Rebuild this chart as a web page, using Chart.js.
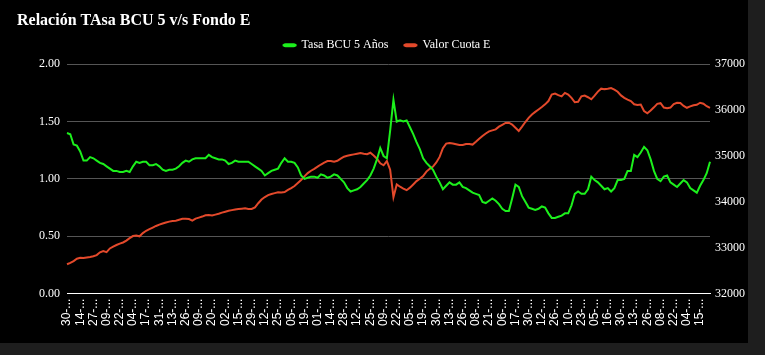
<!DOCTYPE html>
<html lang="es">
<head>
  <meta charset="UTF-8">
  <title>Relación Tasa BCU vs Fondo E</title>
  <style>
    body {
      margin: 0;
      background-color: #1e1e1e;
    }
    #contenedor {
      width: 748px;
      height: 343px;
      background-color: #000;
    }
  </style>
  <script src="https://cdn.jsdelivr.net/npm/chart.js"></script>
</head>
<body>

  <div id="contenedor">
    <canvas id="grafico" width="748" height="343"></canvas>
  </div>

  <script>
    // dias de las etiquetas visibles del eje x (una cada 4 puntos)
    const diasEtiqueta = ['30','14','27','09','22','04','17','31','13','26','09','20','02','15','29','12','25',
      '05','19','01','14','28','12','25','09','22','05','19','30','13','26','08','21','06','17','30','12','26',
      '10','23','05','16','30','13','26','08','22','04','15'];

    const tasaBcu = [
      1.40,1.39,1.30,1.29,1.24,1.16,1.16,1.19,1.18,1.16,
      1.14,1.13,1.11,1.09,1.07,1.07,1.06,1.06,1.07,1.06,
      1.11,1.15,1.14,1.15,1.15,1.12,1.12,1.13,1.11,1.08,
      1.07,1.08,1.08,1.09,1.11,1.14,1.16,1.15,1.17,1.18,
      1.18,1.18,1.18,1.21,1.19,1.18,1.17,1.17,1.16,1.13,
      1.14,1.16,1.15,1.15,1.15,1.15,1.13,1.11,1.09,1.07,
      1.03,1.05,1.07,1.08,1.09,1.14,1.18,1.15,1.15,1.14,
      1.10,1.03,1.00,1.01,1.02,1.02,1.01,1.04,1.03,1.01,
      1.02,1.04,1.03,1.00,0.97,0.92,0.89,0.90,0.91,0.93,
      0.96,0.99,1.03,1.09,1.17,1.27,1.20,1.18,1.42,1.69,
      1.50,1.51,1.50,1.51,1.45,1.39,1.32,1.26,1.18,1.14,
      1.11,1.08,1.02,0.97,0.91,0.94,0.97,0.95,0.95,0.97,
      0.93,0.92,0.90,0.88,0.87,0.86,0.80,0.79,0.81,0.83,
      0.81,0.78,0.74,0.72,0.72,0.83,0.95,0.93,0.85,0.80,
      0.75,0.74,0.73,0.74,0.76,0.75,0.70,0.66,0.66,0.67,
      0.68,0.70,0.70,0.77,0.87,0.89,0.87,0.87,0.91,1.02,
      0.99,0.97,0.94,0.91,0.92,0.89,0.92,0.99,0.99,1.00,
      1.07,1.07,1.21,1.19,1.23,1.28,1.25,1.17,1.07,1.00,
      0.98,1.02,1.03,0.97,0.95,0.93,0.96,0.99,0.97,0.92,
      0.90,0.88,0.94,0.99,1.05,1.15
    ];

    const valorCuota = [
      32640,32670,32710,32760,32780,32775,32790,32800,32815,32840,
      32900,32930,32905,32985,33025,33060,33090,33115,33155,33210,
      33255,33265,33250,33320,33370,33405,33440,33475,33505,33530,
      33550,33570,33583,33590,33610,33631,33631,33625,33590,33635,
      33657,33680,33708,33713,33703,33722,33740,33765,33785,33806,
      33820,33834,33843,33852,33862,33845,33845,33880,33970,34050,
      34105,34147,34172,34190,34208,34205,34215,34260,34300,34346,
      34410,34475,34555,34627,34678,34720,34767,34814,34855,34890,
      34892,34873,34895,34942,34984,35005,35020,35035,35050,35065,
      35050,35040,35070,35010,34940,34840,34798,34890,34700,34102,
      34380,34330,34290,34255,34310,34380,34452,34505,34562,34660,
      34720,34770,34860,34980,35170,35270,35285,35272,35256,35238,
      35240,35260,35262,35248,35310,35375,35435,35490,35536,35558,
      35580,35640,35680,35720,35725,35686,35615,35545,35640,35740,
      35830,35905,35960,36012,36066,36125,36197,36340,36360,36325,
      36300,36375,36340,36265,36170,36180,36300,36316,36280,36235,
      36317,36403,36467,36457,36465,36480,36446,36400,36320,36267,
      36230,36195,36127,36110,36120,35980,35930,35990,36060,36135,
      36150,36055,36038,36055,36130,36160,36155,36090,36050,36080,
      36106,36116,36160,36140,36085,36050
    ];

    const etiquetas = tasaBcu.map((_, i) => (i % 4 === 0 ? diasEtiqueta[i / 4] : ''));

    Chart.defaults.font.family = "'Times New Roman', 'Liberation Serif', serif";
    Chart.defaults.font.size = 12;
    Chart.defaults.color = '#fff';

    // acomoda la leyenda (un poco a la derecha y arriba), como en el original
    const moverLeyenda = {
      id: 'moverLeyenda',
      afterLayout(chart) {
        const l = chart.legend;
        if (l) {
          l.left += 5;
          l.right += 5;
          l.top -= 3;
          l.bottom -= 3;
        }
      }
    };

    const ctx = document.getElementById('grafico');

    new Chart(ctx, {
      type: 'line',
      data: {
        labels: etiquetas,
        datasets: [{
          label: 'Tasa BCU 5 Años',
          data: tasaBcu,
          borderColor: '#1cf01c',
          backgroundColor: '#1cf01c',
          borderWidth: 2,
          pointRadius: 0,
          yAxisID: 'y'
        }, {
          label: 'Valor Cuota E',
          data: valorCuota,
          borderColor: '#e3492b',
          backgroundColor: '#e3492b',
          borderWidth: 2,
          pointRadius: 0,
          yAxisID: 'y1'
        }]
      },
      plugins: [moverLeyenda],
      options: {
        responsive: false,
        animation: false,
        layout: {
          padding: { left: 17, right: 1, top: 1, bottom: 12 }
        },
        plugins: {
          title: {
            display: true,
            text: 'Relación TAsa BCU 5 v/s Fondo E',
            align: 'start',
            color: '#fff',
            font: { size: 16, weight: 'bold' },
            padding: { top: 10, bottom: -4 }
          },
          legend: {
            labels: {
              boxWidth: 12,
              boxHeight: 2,
              padding: 16,
              useBorderRadius: true,
              borderRadius: 2,
              color: '#fff'
            }
          },
          tooltip: { enabled: false }
        },
        scales: {
          x: {
            grid: { display: false, drawTicks: false },
            border: { display: true, color: '#fff' },
            ticks: {
              autoSkip: false,
              maxRotation: 90,
              minRotation: 90,
              padding: 5,
              font: { family: "Arial, 'Liberation Sans', sans-serif", size: 12 },
              callback: function (v) {
                const l = this.getLabelForValue(v);
                return l ? l + '-...' : null;
              }
            },
            afterFit: function (s) {
              s.paddingLeft = 0;
              s.paddingRight = 0;
            }
          },
          y: {
            position: 'left',
            min: 0,
            max: 2,
            ticks: {
              stepSize: 0.5,
              padding: 7,
              callback: v => v.toFixed(2)
            },
            grid: { color: '#555', drawTicks: false },
            border: { display: false },
            afterFit: function (s) { s.width = 50; }
          },
          y1: {
            position: 'right',
            min: 32000,
            max: 37000,
            ticks: {
              stepSize: 1000,
              padding: 5,
              callback: v => String(v)
            },
            grid: { display: false, drawTicks: false },
            border: { display: false },
            afterFit: function (s) { s.width = 37; }
          }
        }
      }
    });
  </script>
</body>
</html>
